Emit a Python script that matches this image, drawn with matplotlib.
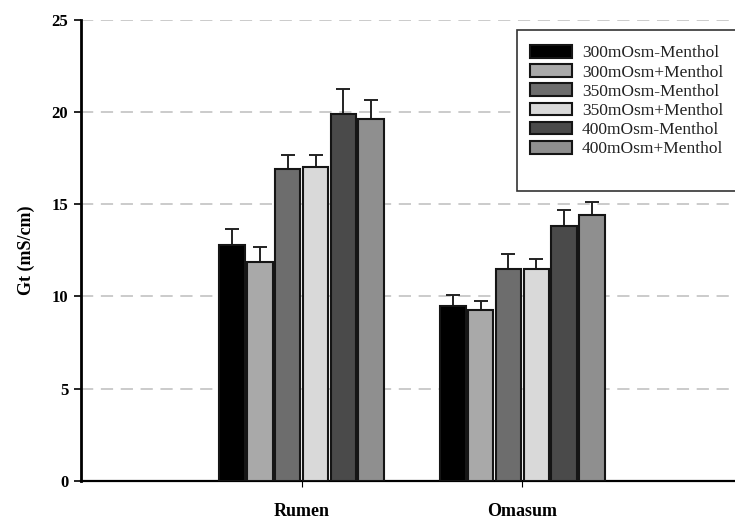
import numpy as np
import matplotlib.pyplot as plt
from matplotlib.patches import Patch, Rectangle

# Gt values per tissue and treatment (mean and SE)
tejidos = ["Rumen", "Omasum"]
tratamientos = ["300mOsm-Menthol", "300mOsm+Menthol", "350mOsm-Menthol",
                "350mOsm+Menthol", "400mOsm-Menthol", "400mOsm+Menthol"]
medias = [
    [12.8, 11.85, 16.9, 17.0, 19.9, 19.6],   # Rumen
    [9.5, 9.27, 11.5, 11.5, 13.8, 14.4],     # Omasum
]
errores = [
    [0.85, 0.85, 0.75, 0.65, 1.35, 1.05],
    [0.6, 0.5, 0.8, 0.55, 0.9, 0.7],
]
colores = ["#000000", "#a9a9a9", "#6d6d6d", "#d9d9d9", "#4a4a4a", "#8f8f8f"]

plt.rcParams['font.family'] = ['Liberation Serif', 'DejaVu Serif']

W, H = 735, 521
fig = plt.figure(figsize=(W / 100, H / 100), dpi=100)
ax = fig.add_axes([0.110, 0.077, 0.895, 0.885])

x = np.arange(1, len(tejidos) + 1)
ancho = 0.115
paso = 0.126
medias = np.array(medias)
errores = np.array(errores)

for i, trat in enumerate(tratamientos):
    pos = x + (i - 2.5) * paso
    ax.bar(pos, medias[:, i], width=ancho, color=colores[i],
           edgecolor="#151515", linewidth=1.5, zorder=3)
    ax.errorbar(pos, medias[:, i], yerr=[np.zeros(len(x)), errores[:, i]],
                fmt="none", ecolor="#222222", elinewidth=1.4, capsize=5,
                capthick=1.4, zorder=2)

ax.set_xlim(0, 2.98)
ax.set_ylim(0, 25)
ax.set_yticks([0, 5, 10, 15, 20, 25])
ax.set_xticks(x)
ax.set_xticklabels(tejidos, fontsize=13, fontweight="bold")
ax.tick_params(axis="y", labelsize=12, width=1.2, length=5, pad=4)
ax.tick_params(axis="x", length=4, width=0.8, pad=12)
for lbl in ax.get_yticklabels():
    lbl.set_fontweight("bold")
ax.set_ylabel("Gt (mS/cm)", fontsize=13, fontweight="bold", labelpad=12)

ax.yaxis.grid(True, linestyle=(0, (8, 5)), color="#bdbdbd", linewidth=1.1, zorder=0)
ax.set_axisbelow(True)
for s in ["top", "right"]:
    ax.spines[s].set_visible(False)
ax.spines["left"].set_linewidth(2)
ax.spines["bottom"].set_linewidth(1.6)

# legend box: white panel with a frame, entries placed inside it
caja = Rectangle((517 / W, 1 - 191 / H), 230 / W, 161 / H, transform=fig.transFigure,
                 facecolor="white", edgecolor="#333333", linewidth=1.2, zorder=5)
fig.patches.append(caja)

handles = [Patch(facecolor=c, edgecolor="#151515", linewidth=1.5) for c in colores]
leg = fig.legend(handles, tratamientos, loc="upper left",
                 bbox_to_anchor=(530 / W, 1 - 45 / H), fontsize=12.5,
                 frameon=False, handlelength=2.4, handleheight=0.75,
                 labelspacing=0.16, borderpad=0, handletextpad=0.6,
                 borderaxespad=0)
leg.set_zorder(6)
for t in leg.get_texts():
    t.set_color("#222222")

fig.savefig("out.png", dpi=100)
